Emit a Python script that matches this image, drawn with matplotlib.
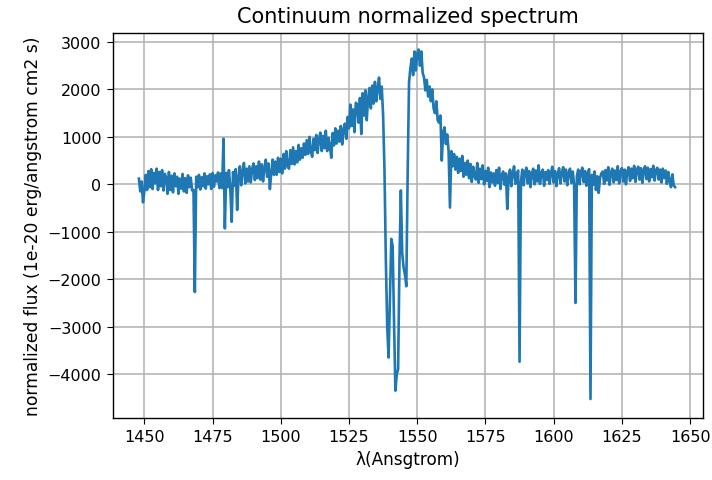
import numpy as np
import matplotlib
matplotlib.use("Agg")
import matplotlib.pyplot as plt
from matplotlib.ticker import MultipleLocator

# wavelength sampling (Angstrom): start and step of the uniform grid
wave_start = 1448.0
wave_step = 0.5

# flux values, 20 samples (10 Angstrom) per row
flux_1448 = [120, -150, 60, -380, -150, 200, -120, 280, -60, 320, -100, 240, 20, 330, -120, 260, -40, 300, -130, 220]
flux_1458 = [140, -200, 260, -120, 180, -170, 230, -40, 160, -200, 120, -90, 220, -150, 130, -180, 190, -60, 140, -130]
flux_1468 = [-120, -2270, 160, -60, 200, -110, 150, -40, 230, -90, 170, 0, 210, -100, 240, -50, 190, 60, 250, -80]
flux_1478 = [230, -80, 960, -930, 240, -60, 300, -100, -790, 260, -30, 320, -540, 150, 380, -20, 280, 450, 20, 330]
flux_1488 = [60, 380, 40, 330, 440, 90, 380, 130, 480, 100, 420, 60, 360, 520, 160, 440, -100, 230, 520, 200]
flux_1498 = [480, 200, 560, 260, 540, 230, 640, 330, 700, 380, 330, 720, 430, 780, 420, 700, 460, 830, 520, 760]
flux_1508 = [560, 860, 620, 930, 640, 1000, 700, 580, 960, 720, 1040, 660, 950, 1090, 700, 1020, 760, 1130, 700, 980]
flux_1518 = [800, 560, 1080, 820, 1180, 860, 1130, 900, 1230, 840, 1160, 1280, 960, 1420, 1180, 1680, 1230, 1580, 1100, 1720]
flux_1528 = [1680, 1300, 1820, 1060, 1920, 1450, 1980, 1350, 1820, 2030, 1600, 2080, 1700, 2160, 1750, 2020, 2250, 1800, 2060, 1450]
flux_1538 = [300, -1600, -3000, -3650, -2400, -1150, -1300, -2900, -4350, -4000, -3900, -1600, -130, -1450, -1750, -1900, -2150, 250, 2150, 2450]
flux_1548 = [2650, 2300, 2800, 2400, 2760, 2840, 2500, 2800, 2350, 2250, 1980, 2200, 1850, 2060, 1750, 2000, 1600, 1500, 1750, 1350]
flux_1558 = [1300, 1450, 500, 1100, 1200, 850, 1050, 700, -490, 700, 380, 640, 310, 580, 240, 540, 280, 600, 160, 450]
flux_1568 = [200, 500, 130, 430, 50, 370, 180, 100, 450, 30, 330, 110, 400, 0, 280, 70, 350, -60, 250, 40]
flux_1578 = [230, -30, 300, 30, 350, -100, 200, 270, -10, 230, -520, 170, 310, -40, 250, 380, 10, 220, 290, -3740]
flux_1588 = [50, 310, -20, 250, 350, 20, 280, -60, 220, 330, 0, 290, 60, 400, 10, 240, 310, -30, 260, 90]
flux_1598 = [300, 10, 230, 370, 40, 280, -40, 220, 340, 20, 250, 360, 60, 310, -20, 240, 330, 30, 270, -10]
flux_1608 = [-2500, 170, 310, 0, 260, 350, 50, 280, -30, 230, 320, -4525, 200, -10, 270, -120, 170, -180, 140, 230]
flux_1618 = [270, 10, 300, 80, 360, -10, 250, 330, 40, 290, 90, 380, 20, 270, 340, 60, 310, 0, 280, 360]
flux_1628 = [70, 330, 130, 390, 50, 310, 370, 100, 340, 30, 300, 380, 110, 350, 60, 320, 150, 390, 80, 300]
flux_1638 = [350, 100, 310, 40, 330, 130, 290, 10, 260, 80, -60, 210, -20, -60]

flux = np.array(flux_1448 + flux_1458 + flux_1468 + flux_1478 + flux_1488 + flux_1498
                + flux_1508 + flux_1518 + flux_1528 + flux_1538 + flux_1548 + flux_1558
                + flux_1568 + flux_1578 + flux_1588 + flux_1598 + flux_1608 + flux_1618
                + flux_1628 + flux_1638, dtype=float)
wave = wave_start + wave_step * np.arange(len(flux))

title = "Continuum normalized spectrum"
xlabel = "λ(Ansgtrom)"
ylabel = "normalized flux (1e-20 erg/angstrom cm2 s)"

fig = plt.figure(figsize=(7.12, 4.81), dpi=100)
ax = fig.add_axes([0.1583, 0.1289, 0.8297, 0.8004])
ax.plot(wave, flux, color="#1f77b4", linewidth=1.9)
ax.set_xlim(1438.4, 1654.9)
ax.set_ylim(-4925, 3189)
ax.xaxis.set_major_locator(MultipleLocator(25))
ax.yaxis.set_major_locator(MultipleLocator(1000))
ax.grid(True, color="#b0b0b0", linewidth=1.1)
ax.tick_params(labelsize=11.5, length=4.5)
ax.set_title(title, fontsize=15, pad=8)
ax.set_xlabel(xlabel, fontsize=12.2)
ax.set_ylabel(ylabel, fontsize=12.3)
for s in ax.spines.values():
    s.set_linewidth(1.0)
fig.savefig("out.png", dpi=100)
